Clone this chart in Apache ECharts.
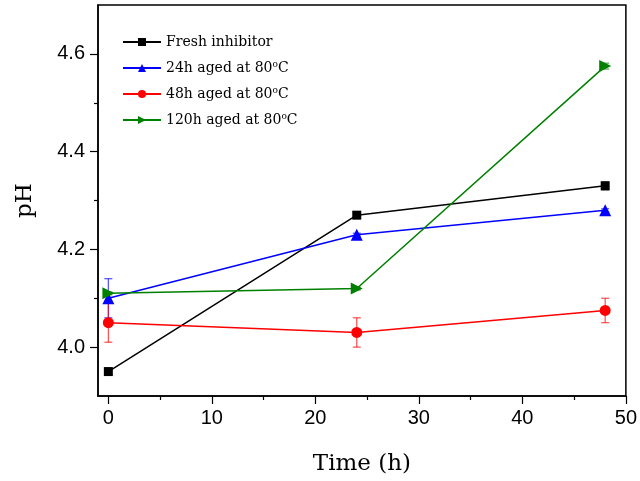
<!DOCTYPE html>
<html lang="en">
<head>
<meta charset="UTF-8">
<title>pH vs time</title>
<script src="https://cdn.jsdelivr.net/npm/echarts@6/dist/echarts.min.js"></script>
<style>
html, body { margin: 0; padding: 0; background: #fff; }
#chart { width: 640px; height: 481px; }
</style>
</head>
<body>
<div id="chart"></div>
<script>
// data
const times = [0, 24, 48];
const freshPH = [3.95, 4.27, 4.33];
const freshErr = [0.006, 0.006, 0.008];
const aged24PH = [4.10, 4.23, 4.28];
const aged24Err = [0.04, 0.003, 0.003];
const aged48PH = [4.05, 4.03, 4.075];
const aged48Err = [0.04, 0.03, 0.025];
const aged120PH = [4.11, 4.12, 4.575];
const aged120Err = [0.003, 0.003, 0.006];

const xMajor = [0, 10, 20, 30, 40, 50];
const xMinor = [5, 15, 25, 35, 45];
const yMajor = [4.0, 4.2, 4.4, 4.6];
const yMinor = [4.1, 4.3, 4.5];

const serif = '"DejaVu Serif", "Liberation Serif", serif';
const sans = '"Liberation Sans", Arial, sans-serif';

const groups = [
  { name: 'Fresh inhibitor', y: freshPH, err: freshErr, color: '#000000', symbol: 'rect', size: 9 },
  { name: '24h aged at 80°C', y: aged24PH, err: aged24Err, color: '#0000ff', symbol: 'triangle', size: 12 },
  { name: '48h aged at 80°C', y: aged48PH, err: aged48Err, color: '#ff0000', symbol: 'circle', size: 11 },
  { name: '120h aged at 80°C', y: aged120PH, err: aged120Err, color: '#008000', symbol: 'path://M0,0L10,5L0,10Z', size: 12 }
];

const series = [];
groups.forEach(g => {
  series.push({
    name: g.name + ' err',
    type: 'custom',
    z: 1,
    silent: true,
    data: times.map((t, i) => [t, g.y[i] - g.err[i], g.y[i] + g.err[i]]),
    renderItem: (params, api) => {
      const lo = api.coord([api.value(0), api.value(1)]);
      const hi = api.coord([api.value(0), api.value(2)]);
      const w = 4;
      const style = { stroke: g.color, lineWidth: 1.2, opacity: 0.7 };
      return {
        type: 'group',
        children: [
          { type: 'line', shape: { x1: lo[0], y1: lo[1], x2: hi[0], y2: hi[1] }, style },
          { type: 'line', shape: { x1: lo[0] - w, y1: lo[1], x2: lo[0] + w, y2: lo[1] }, style },
          { type: 'line', shape: { x1: hi[0] - w, y1: hi[1], x2: hi[0] + w, y2: hi[1] }, style }
        ]
      };
    }
  });
  series.push({
    name: g.name,
    type: 'line',
    z: 3,
    data: times.map((t, i) => [t, g.y[i]]),
    symbol: g.symbol,
    symbolSize: g.size,
    color: g.color,
    lineStyle: { color: g.color, width: 1.5 },
    itemStyle: { color: g.color }
  });
});

const chart = echarts.init(document.getElementById('chart'));
chart.setOption({
  animation: false,
  grid: {
    left: 98, right: 13, top: 5, bottom: 84,
    show: true, borderColor: '#000', borderWidth: 1.5, backgroundColor: 'transparent'
  },
  legend: {
    data: groups.map(g => g.name),
    orient: 'vertical',
    left: 122,
    top: 35,
    padding: 0,
    itemWidth: 38,
    itemHeight: 10,
    itemGap: 11,
    formatter: name => name.replace('80°C', '80{sup|o}C'),
    textStyle: {
      fontFamily: serif, fontSize: 14, color: '#000',
      rich: { sup: { fontFamily: serif, fontSize: 9, verticalAlign: 'top', padding: [0, 0, 7, 0], color: '#000' } }
    }
  },
  xAxis: [
    {
      type: 'value', min: -1, max: 50,
      name: 'Time (h)', nameLocation: 'middle', nameGap: 57,
      nameTextStyle: { fontFamily: serif, fontSize: 23, color: '#000' },
      axisLine: { onZero: false, lineStyle: { color: '#000', width: 1.5 } },
      axisTick: { customValues: xMajor, length: 8, lineStyle: { color: '#000', width: 1.2 } },
      axisLabel: { customValues: xMajor, margin: 12, fontFamily: sans, fontSize: 20, color: '#000' },
      splitLine: { show: false }
    },
    {
      type: 'value', min: -1, max: 50, position: 'bottom',
      axisLine: { show: false, onZero: false },
      axisTick: { customValues: xMinor, length: 4, lineStyle: { color: '#000', width: 1.2 } },
      axisLabel: { show: false },
      splitLine: { show: false }
    }
  ],
  yAxis: [
    {
      type: 'value', min: 3.9, max: 4.7,
      name: 'pH', nameLocation: 'middle', nameGap: 61,
      nameTextStyle: { fontFamily: serif, fontSize: 23, color: '#000' },
      axisLine: { onZero: false, lineStyle: { color: '#000', width: 1.5 } },
      axisTick: { customValues: yMajor, length: 8, lineStyle: { color: '#000', width: 1.2 } },
      axisLabel: { customValues: yMajor, margin: 13, fontFamily: sans, fontSize: 20, color: '#000',
        formatter: v => v.toFixed(1) },
      splitLine: { show: false }
    },
    {
      type: 'value', min: 3.9, max: 4.7, position: 'left',
      axisLine: { show: false, onZero: false },
      axisTick: { customValues: yMinor, length: 4, lineStyle: { color: '#000', width: 1.2 } },
      axisLabel: { show: false },
      splitLine: { show: false }
    }
  ],
  series: series
});
window.addEventListener('resize', () => chart.resize());
</script>
</body>
</html>
